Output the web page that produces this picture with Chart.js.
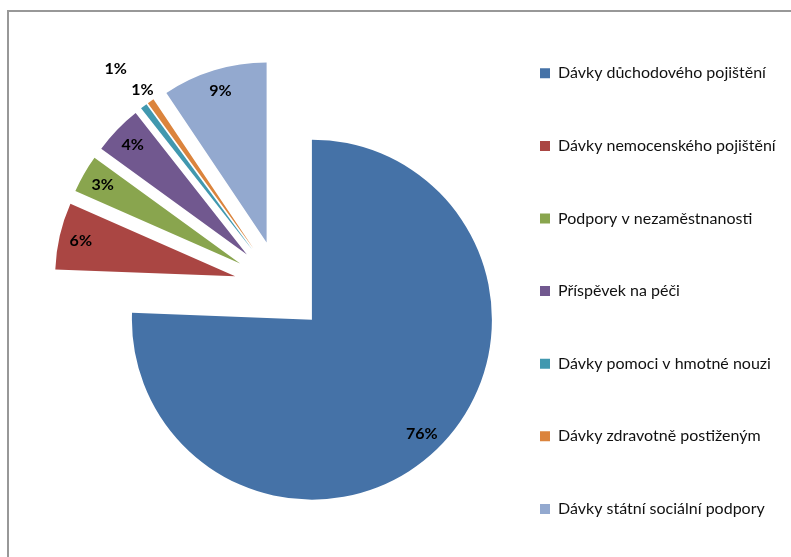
<!DOCTYPE html>
<html lang="cs">
<head>
<meta charset="utf-8">
<title>Struktura výdajů na sociální dávky</title>
<script src="https://cdn.jsdelivr.net/npm/chart.js@4.4.1/dist/chart.umd.min.js"></script>
<style>
  html, body { margin: 0; padding: 0; background: #fff; }
  #wrap { position: relative; width: 791px; height: 557px; overflow: hidden; }
  /* chart frame: only its top and left edge fall inside the view */
  #frame { position: absolute; left: 7px; top: 10px; width: 900px; height: 700px; border: 2px solid #989898; }
  #chart { position: absolute; left: 0; top: 0; }
</style>
</head>
<body>
<div id="wrap">
  <div id="frame"></div>
  <canvas id="chart" width="791" height="557"></canvas>
</div>
<script>
// Podíl druhů dávek na celkových výdajích (%)
const categories = [
  "Dávky důchodového pojištění",
  "Dávky nemocenského pojištění",
  "Podpory v nezaměstnanosti",
  "Příspěvek na péči",
  "Dávky pomoci v hmotné nouzi",
  "Dávky zdravotně postiženým",
  "Dávky státní sociální podpory",
];
const shares = [75.6, 6.0, 3.4, 4.4, 0.6, 0.6, 9.4];
const sliceColors = ["#4572A7", "#AA4643", "#89A54E", "#71588F", "#4198AF", "#DB843D", "#93A9CF"];

const PIE_RADIUS = 180;
const EXPLODE = 46;          // every slice pulled out along its bisector
const OUTSIDE_BELOW = 2;     // slices under 2 % get their label outside

const LEGEND_FONT = { family: "Lato", size: 16 };
const LEGEND_BOX = 10;
const LEGEND_GAP = 56.6;     // vertical gap between legend rows
const LEGEND_X = 540;        // x of the legend colour boxes
const PIE_CX = 280;          // horizontal centre of the (unexploded) pie

// Draw each arc shifted along its own bisector (Excel-style exploded pie).
const explodedSlices = {
  id: "explodedSlices",
  beforeDatasetDraw(chart, args) {
    const ctx = chart.ctx;
    args.meta.data.forEach((arc) => {
      const mid = (arc.startAngle + arc.endAngle) / 2;
      ctx.save();
      ctx.translate(Math.cos(mid) * EXPLODE, Math.sin(mid) * EXPLODE);
      arc.draw(ctx);
      ctx.restore();
    });
    return false;
  },
};

// Percentage labels: inside near the rim, or just past the rim for thin slices.
const sliceLabels = {
  id: "sliceLabels",
  afterDatasetsDraw(chart) {
    const ctx = chart.ctx;
    const meta = chart.getDatasetMeta(0);
    const values = chart.data.datasets[0].data;
    const total = values.reduce((a, b) => a + b, 0);
    const placed = [];

    ctx.save();
    ctx.font = "bold 16px Lato";
    ctx.fillStyle = "#000";
    ctx.textAlign = "center";
    ctx.textBaseline = "middle";

    // walk backwards so a crowded outer label is pushed further out
    for (let i = meta.data.length - 1; i >= 0; i--) {
      const arc = meta.data[i];
      const pct = (values[i] / total) * 100;
      const text = Math.round(pct) + "%";
      const mid = (arc.startAngle + arc.endAngle) / 2;
      const ux = Math.cos(mid);
      const uy = Math.sin(mid);
      const ox = arc.x + ux * EXPLODE;
      const oy = arc.y + uy * EXPLODE;
      const outside = pct < OUTSIDE_BELOW;
      const w = ctx.measureText(text).width + 4;
      const h = 22;
      let dist = arc.outerRadius * (outside ? 1.08 : 0.88);
      let x, y;
      for (;;) {
        x = ox + ux * dist;
        y = oy + uy * dist;
        const hit = placed.some((b) =>
          Math.abs(b.x - x) < (b.w + w) / 2 && Math.abs(b.y - y) < (b.h + h) / 2);
        if (!hit || !outside) break;
        dist += 1;
      }
      placed.push({ x, y, w, h });
      ctx.fillText(text, x, y);
    }
    ctx.restore();
  },
};

function drawChart() {
  // right padding that puts the legend column at LEGEND_X whatever the label widths
  const probe = document.createElement("canvas").getContext("2d");
  probe.font = LEGEND_FONT.size + "px " + LEGEND_FONT.family;
  const widest = Math.max(...categories.map((t) => probe.measureText(t).width));
  const legendWidth = LEGEND_GAP + LEGEND_BOX + LEGEND_FONT.size / 2 + widest + 10;
  const legendLeft = LEGEND_X - LEGEND_GAP;
  const padRight = 791 - legendLeft - legendWidth;
  const padLeft = 2 * PIE_CX - legendLeft;

  new Chart(document.getElementById("chart"), {
    type: "pie",
    data: {
      labels: categories,
      datasets: [{
        data: shares,
        backgroundColor: sliceColors,
        borderWidth: 0,
        radius: PIE_RADIUS,
      }],
    },
    options: {
      responsive: false,
      animation: false,
      layout: { padding: { top: 0, bottom: -16.5, left: padLeft, right: padRight } },
      plugins: {
        // empty title only reserves a strip above the pie
        title: { display: true, text: "", padding: 0, font: { size: 16, lineHeight: 1 } },
        legend: {
          position: "right",
          align: "end",
          labels: {
            boxWidth: LEGEND_BOX,
            boxHeight: LEGEND_BOX,
            padding: LEGEND_GAP,
            color: "#111",
            font: LEGEND_FONT,
          },
        },
        tooltip: { enabled: false },
      },
    },
    plugins: [explodedSlices, sliceLabels],
  });
}

Promise.all([
  document.fonts.load("16px Lato"),
  document.fonts.load("bold 16px Lato"),
]).then(drawChart, drawChart);
</script>
</body>
</html>
